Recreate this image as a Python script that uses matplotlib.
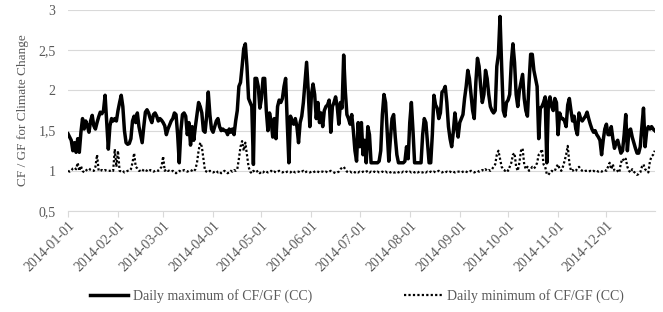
import pandas as pd
import matplotlib.pyplot as plt
import matplotlib.dates as mdates
from matplotlib.ticker import FuncFormatter

plt.rcParams['font.family'] = ['Liberation Serif', 'DejaVu Serif']

# --- daily maximum of CF/GF (CC), read month by month ---
max_jan = [1.46, 1.42, 1.38, 1.25, 1.35, 1.23, 1.40, 1.23, 1.48, 1.65,
           1.52, 1.62, 1.56, 1.48, 1.62, 1.69, 1.56, 1.52, 1.60, 1.67,
           1.73, 1.71, 1.75, 1.94, 1.60, 1.27, 1.56, 1.65, 1.62, 1.65,
           1.62]
max_feb = [1.75, 1.85, 1.94, 1.80, 1.50, 1.35, 1.33, 1.34, 1.40, 1.62,
           1.68, 1.60, 1.72, 1.55, 1.45, 1.35, 1.55, 1.73, 1.76, 1.72,
           1.65, 1.60, 1.70, 1.72, 1.68, 1.62, 1.65, 1.63]
max_mar = [1.60, 1.56, 1.45, 1.52, 1.57, 1.62, 1.65, 1.72, 1.70, 1.45,
           1.10, 1.50, 1.70, 1.72, 1.68, 1.45, 1.60, 1.32, 1.55, 1.38,
           1.55, 1.70, 1.85, 1.80, 1.72, 1.50, 1.48, 1.68, 1.98, 1.70,
           1.52]
max_apr = [1.48, 1.55, 1.62, 1.65, 1.55, 1.50, 1.52, 1.50, 1.50, 1.45,
           1.52, 1.48, 1.52, 1.45, 1.62, 1.75, 2.05, 2.10, 2.30, 2.52,
           2.58, 2.30, 1.90, 1.85, 1.80, 1.08, 2.15, 2.15, 2.05, 1.78]
max_may = [1.90, 2.15, 2.15, 1.75, 1.50, 1.72, 1.62, 1.42, 1.65, 1.40,
           1.80, 1.88, 1.85, 1.90, 2.05, 2.15, 1.60, 1.10, 1.68, 1.62,
           1.58, 1.65, 1.55, 1.35, 1.60, 1.68, 1.85, 2.10, 2.35, 2.00,
           1.55]
max_jun = [1.95, 2.08, 1.95, 1.65, 1.85, 1.60, 1.72, 1.55, 1.75, 1.80,
           1.82, 1.88, 1.48, 1.80, 1.85, 1.92, 1.80, 1.58, 1.85, 1.78,
           2.44, 2.00, 1.70, 1.65, 1.58, 1.70, 1.50, 1.25, 1.12, 1.60]
max_jul = [1.30, 1.60, 1.20, 1.38, 1.10, 1.55, 1.45, 1.10, 1.10, 1.10,
           1.10, 1.10, 1.12, 1.25, 1.70, 1.95, 1.85, 1.48, 1.12, 1.40,
           1.65, 1.70, 1.42, 1.20, 1.10, 1.10, 1.10, 1.10, 1.12, 1.30,
           1.15]
max_aug = [1.60, 1.85, 1.50, 1.10, 1.10, 1.10, 1.10, 1.10, 1.45, 1.65,
           1.60, 1.35, 1.10, 1.10, 1.45, 1.94, 1.82, 1.78, 1.65, 1.72,
           1.98, 2.00, 2.05, 1.85, 1.55, 1.40, 1.30, 1.48, 1.72, 1.55,
           1.42]
max_sep = [1.60, 1.65, 1.70, 1.90, 2.05, 2.25, 2.15, 1.95, 1.75, 1.65,
           2.10, 2.40, 2.30, 2.05, 1.85, 1.95, 2.25, 2.15, 1.95, 1.80,
           1.75, 1.72, 1.75, 2.30, 2.45, 2.92, 2.30, 1.75, 1.68, 1.85]
max_oct = [1.88, 1.95, 2.35, 2.58, 2.35, 1.95, 1.80, 2.00, 2.10, 2.20,
           1.90, 1.75, 1.68, 2.10, 2.45, 2.45, 2.25, 2.15, 2.05, 1.40,
           1.78, 1.80, 1.85, 1.92, 1.10, 1.85, 1.92, 1.80, 1.75, 1.90,
           1.85]
max_nov = [1.45, 1.72, 1.65, 1.65, 1.62, 1.55, 1.82, 1.90, 1.75, 1.62,
           1.68, 1.52, 1.45, 1.72, 1.65, 1.62, 1.65, 1.68, 1.73, 1.65,
           1.58, 1.52, 1.48, 1.50, 1.45, 1.42, 1.38, 1.20, 1.38, 1.52]
max_dec = [1.58, 1.45, 1.45, 1.55, 1.40, 1.28, 1.35, 1.38, 1.30, 1.22,
           1.25, 1.45, 1.70, 1.25, 1.50, 1.52, 1.42, 1.35, 1.28, 1.22,
           1.22, 1.30, 1.55, 1.78, 1.30, 1.50, 1.55, 1.52, 1.55, 1.52,
           1.50]

# --- daily minimum of CF/GF (CC) ---
min_jan = [1.00, 0.99, 1.00, 1.03, 1.04, 1.02, 1.10, 1.00, 1.06, 1.00,
           0.98, 1.00, 1.02, 1.03, 1.01, 1.00, 1.00, 1.05, 1.20, 1.00,
           1.00, 1.01, 1.00, 1.01, 1.00, 1.00, 1.00, 1.01, 1.00, 1.27,
           1.05]
min_feb = [1.25, 1.00, 0.99, 1.00, 0.98, 0.99, 1.00, 1.00, 1.02, 1.10,
           1.22, 1.05, 1.03, 1.00, 1.00, 0.99, 1.02, 1.01, 1.00, 0.99,
           1.01, 1.00, 0.99, 1.00, 1.01, 1.00, 1.02, 1.05]
min_mar = [1.18, 1.00, 1.02, 1.00, 1.00, 0.99, 1.00, 0.98, 0.97, 0.99,
           1.00, 0.99, 1.00, 1.01, 1.00, 0.99, 1.00, 1.01, 1.00, 0.99,
           1.02, 1.10, 1.25, 1.35, 1.30, 1.15, 1.00, 0.99, 0.98, 1.00,
           0.99]
min_apr = [0.98, 0.99, 1.00, 0.98, 0.99, 0.97, 0.98, 1.00, 0.99, 0.97,
           0.98, 1.00, 0.99, 1.01, 1.00, 1.02, 1.15, 1.30, 1.37, 1.25,
           1.35, 1.20, 1.05, 0.99, 0.97, 1.00, 0.98, 0.99, 1.00, 0.97]
min_may = [0.99, 0.98, 1.00, 0.99, 0.98, 0.99, 1.00, 0.98, 0.99, 0.98,
           0.99, 1.00, 0.99, 0.98, 0.99, 0.98, 0.99, 0.99, 0.98, 1.00,
           0.99, 0.98, 0.99, 0.99, 0.98, 0.99, 1.00, 0.98, 0.99, 0.99,
           0.98]
min_jun = [0.99, 0.98, 0.99, 1.00, 0.99, 0.98, 0.99, 0.99, 0.98, 0.99,
           0.98, 0.99, 1.00, 0.99, 0.98, 0.97, 0.98, 0.99, 1.02, 1.04,
           1.05, 1.02, 0.99, 0.98, 0.99, 0.98, 0.99, 0.98, 0.99, 0.98]
min_jul = [0.99, 0.98, 0.99, 0.98, 0.99, 1.00, 0.98, 0.99, 0.98, 0.99,
           0.98, 0.99, 0.98, 0.98, 0.99, 0.98, 0.99, 0.98, 0.99, 0.98,
           0.99, 0.98, 0.98, 0.99, 0.98, 0.99, 0.98, 0.99, 0.98, 0.99,
           0.98]
min_aug = [0.99, 0.98, 0.99, 0.98, 0.99, 0.98, 0.99, 0.98, 0.98, 0.99,
           0.98, 0.99, 0.98, 0.99, 0.98, 0.99, 0.98, 0.99, 1.00, 0.99,
           0.98, 0.99, 0.98, 0.99, 0.98, 0.99, 0.98, 0.99, 0.98, 0.99,
           0.99]
min_sep = [0.99, 0.98, 0.99, 1.00, 0.99, 0.98, 0.99, 1.00, 0.99, 0.98,
           0.99, 1.00, 0.99, 1.00, 1.01, 1.00, 1.02, 1.00, 1.01, 1.00,
           1.02, 1.05, 1.08, 1.20, 1.25, 1.15, 1.05, 1.02, 1.00, 1.02]
min_oct = [1.00, 1.05, 1.10, 1.20, 1.22, 1.05, 1.00, 1.10, 1.25, 1.28,
           1.08, 1.02, 1.05, 1.00, 1.02, 1.05, 1.03, 1.05, 1.10, 1.20,
           1.22, 1.27, 1.08, 1.05, 0.96, 0.95, 0.98, 1.00, 0.99, 1.00,
           1.05]
min_nov = [1.08, 1.02, 1.00, 1.05, 1.12, 1.20, 1.31, 1.10, 1.00, 1.01,
           0.99, 1.00, 1.03, 1.05, 1.02, 1.00, 0.99, 1.00, 1.00, 0.99,
           1.00, 0.99, 1.00, 0.99, 1.00, 0.99, 1.00, 0.99, 1.00, 1.01]
min_dec = [1.00, 1.05, 1.10, 1.02, 1.08, 1.00, 0.99, 1.00, 0.98, 1.10,
           1.15, 1.12, 1.15, 1.05, 1.00, 0.98, 1.02, 0.99, 0.97, 0.95,
           0.96, 0.98, 1.05, 1.08, 1.02, 1.00, 0.98, 1.12, 1.18, 1.20,
           1.25]

daily_max = (max_jan + max_feb + max_mar + max_apr + max_may + max_jun +
             max_jul + max_aug + max_sep + max_oct + max_nov + max_dec)
daily_min = (min_jan + min_feb + min_mar + min_apr + min_may + min_jun +
             min_jul + min_aug + min_sep + min_oct + min_nov + min_dec)
dates = pd.date_range('2014-01-01', '2014-12-31', freq='D')

gray = '#595959'

fig = plt.figure(figsize=(6.63, 3.12), dpi=100)
ax = fig.add_axes([0.1026, 0.3237, 0.885, 0.644])

ax.plot(dates, daily_max, color='black', lw=2.5, solid_joinstyle='round',
        label='Daily maximum of CF/GF (CC)')
ax.plot(dates, daily_min, color='black', lw=1.6, linestyle=(0, (1, 1)),
        label='Daily minimum of CF/GF (CC)')

ax.set_xlim(dates[0], dates[-1])
ax.set_ylim(0.5, 3)
ax.set_yticks([0.5, 1, 1.5, 2, 2.5, 3])
ax.yaxis.set_major_formatter(FuncFormatter(lambda v, _: ('%g' % v).replace('.', ',')))
ax.xaxis.set_major_locator(mdates.MonthLocator())
ax.xaxis.set_major_formatter(mdates.DateFormatter('%Y-%m-%d'))

ax.tick_params(axis='y', length=0, pad=9, labelsize=10, labelcolor=gray)
ax.tick_params(axis='x', length=4, color='#d9d9d9', pad=2, labelsize=10, labelcolor=gray)
for lab in ax.get_xticklabels():
    lab.set_rotation(45)
    lab.set_ha('right')
    lab.set_rotation_mode('anchor')

ax.yaxis.grid(True, color='#d9d9d9', lw=0.8)
ax.set_axisbelow(True)
for s in ['top', 'right', 'left']:
    ax.spines[s].set_visible(False)
ax.spines['bottom'].set_color('#d9d9d9')

ax.set_ylabel('CF / GF for Climate Change', fontsize=9.5, color=gray)
ax.yaxis.set_label_coords(-0.066, 0.5)

fig.legend(loc='center', bbox_to_anchor=(0.539, 0.051), ncol=2, frameon=False,
           handlelength=2.7, handletextpad=0.4, columnspacing=6.6,
           fontsize=10, labelcolor=gray)

fig.savefig('out.png', dpi=100)
